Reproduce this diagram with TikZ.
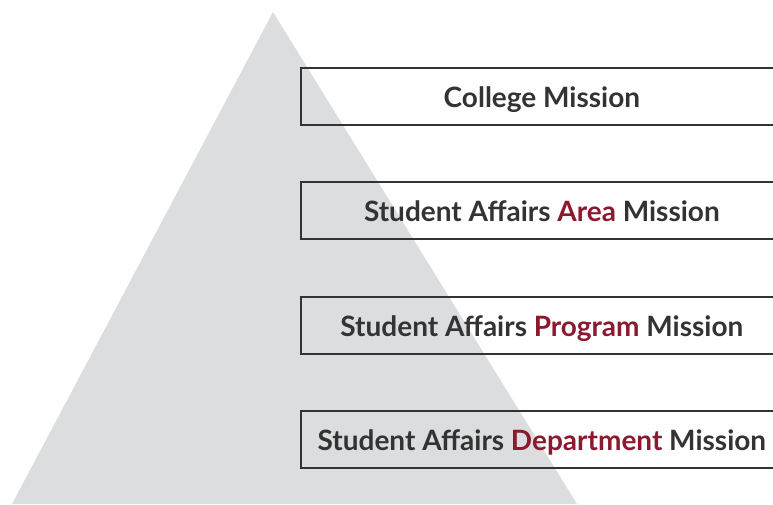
\documentclass[tikz,border=0pt]{standalone}
\usepackage{fontspec}
\setmainfont{Lato}
\definecolor{pyramidgray}{HTML}{DCDDDF}
\definecolor{textgray}{HTML}{333333}
\definecolor{missionred}{HTML}{8C1A2E}
\newcommand{\hl}[1]{\textcolor{missionred}{#1}}

\begin{document}
\begin{tikzpicture}[x=1pt, y=-1pt
    , mission/.style={draw=textgray, line width=1.8pt, anchor=north west,
        minimum width=482pt, minimum height=57pt, inner sep=0pt,
        text height=25pt, text depth=2pt,
        text=textgray, font=\fontsize{28}{32}\selectfont\bfseries}
    ]
    \useasboundingbox (0,0) rectangle (773,504);
    \clip (0,0) rectangle (773,504);
    % pyramid
    \fill[pyramidgray] (273,12) -- (577,504) -- (12,504) -- cycle;
    % mission levels
    \node[mission] (college) at (300,67) {College Mission};
    \node[mission] (area) at (300,181) {Student Affairs \hl{Area} Mission};
    \node[mission] (program) at (300,296) {Student Affairs \hl{Program} Mission};
    \node[mission] (department) at (300,410) {Student Affairs \hl{Department} Mission};
  \end{tikzpicture}
\end{document}
